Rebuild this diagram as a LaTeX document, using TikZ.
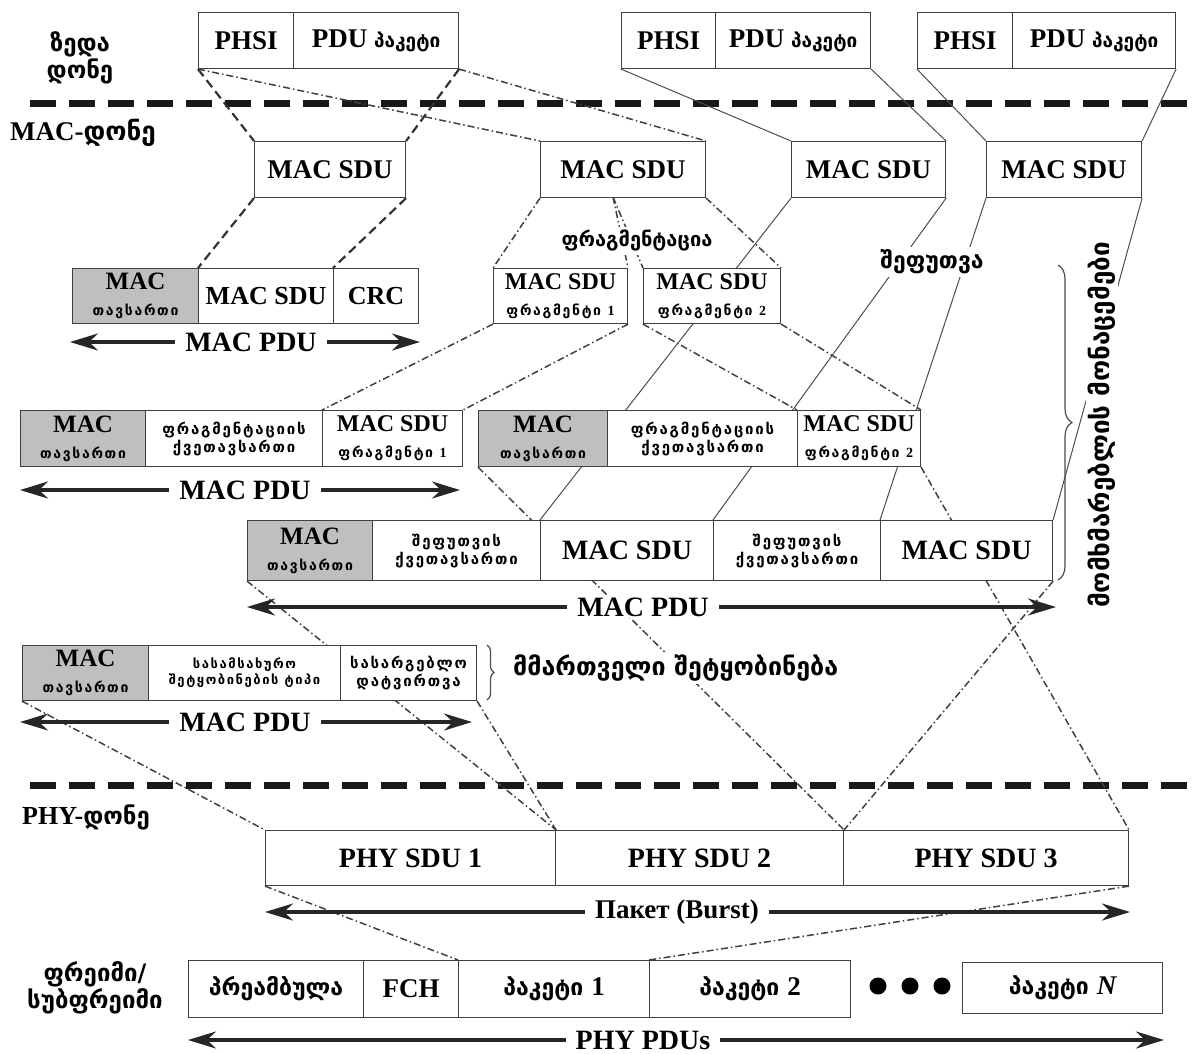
\documentclass[tikz,border=0pt]{standalone}
\usepackage{fontspec}
\setmainfont{Liberation Serif}
\newfontfamily\geofont{DejaVu Sans}
\newfontfamily\geofontsp{DejaVu Sans}[LetterSpace=12]
\usetikzlibrary{arrows.meta,decorations.pathreplacing}
\pgfdeclarelayer{background}
\pgfsetlayers{background,main}

% Georgian text in bold sans: size, leading
\newcommand\kafont[2]{\geofont\bfseries\fontsize{#1}{#2}\selectfont}
% Georgian text in bold sans, letter-spaced, for small cell captions
\newcommand\kasmall[2]{\geofontsp\bfseries\fontsize{#1}{#2}\selectfont}
% Latin text in bold serif: size, leading
\newcommand\lafont[2]{\rmfamily\bfseries\fontsize{#1}{#2}\selectfont}
% one rectangular cell: name, x1, x2, y1, y2, style, text
\newcommand\mkcell[7]{\node[#6, minimum width={(#3-#2)*1pt}, minimum height={(#5-#4)*1pt}] (#1) at (#2,#4) {#7};}
% MAC header cell text
\newcommand\machdr{{\lafont{25}{25}MAC}\\[-3pt]{\kasmall{14}{15}თავსართი}}
% MAC SDU fragment cell text
\newcommand\fragtxt[1]{{\lafont{24}{24}MAC SDU}\\[-3pt]{\kasmall{14}{15}ფრაგმენტი {\rmfamily #1}}}

\tikzset{
  cellbox/.style={draw=black!75, line width=1.1pt, fill=white, inner sep=0pt,
    anchor=north west, align=center, text=black, font=\lafont{27}{29}},
  hdrbox/.style={cellbox, fill=black!25},
  pdulbl/.style={fill=white, inner xsep=10pt, inner ysep=2pt, font=\lafont{28}{30}},
  pduarrow/.style={line width=3.2pt, black!85,
    {Stealth[length=28pt,width=17pt]}-{Stealth[length=28pt,width=17pt]}},
  dashconn/.style={line width=2.2pt, black!80, dash pattern=on 9pt off 5pt},
  dotconn/.style={line width=1.5pt, black!75, dash pattern=on 7pt off 3pt on 1.5pt off 3pt},
  thinconn/.style={line width=1pt, black!70},
  sepline/.style={line width=7pt, black!90, dash pattern=on 26pt off 13pt},
  lvllbl/.style={inner sep=0pt, align=center, font=\kafont{24}{27}},
  notelbl/.style={fill=white, inner sep=3pt, font=\kafont{20}{22}},
  bracedeco/.style={decorate, decoration={brace, amplitude=#1}, line width=1.2pt, black!70},
  dotmark/.style={circle, fill=black, minimum size=17pt, inner sep=0pt}
}

\begin{document}
\begin{tikzpicture}[x=1pt, y=-1pt]
\useasboundingbox (0,0) rectangle (1202,1053);

% ---------- upper level: three PHSI / PDU packets ----------
\mkcell{A1}{198}{293}{12}{68}{cellbox}{PHSI}
\mkcell{A2}{293}{458}{12}{68}{cellbox}{PDU {\kafont{19}{20}პაკეტი}}
\mkcell{B1}{621}{715}{12}{68}{cellbox}{PHSI}
\mkcell{B2}{715}{870}{12}{68}{cellbox}{PDU {\kafont{19}{20}პაკეტი}}
\mkcell{C1}{917}{1012}{12}{68}{cellbox}{PHSI}
\mkcell{C2}{1012}{1175}{12}{68}{cellbox}{PDU {\kafont{19}{20}პაკეტი}}

\node[lvllbl] (lvlTop) at (80,58) {ზედა\\დონე};
\node[lvllbl, anchor=west, font=\kafont{26}{28}] (lvlMac) at (10,133) {{\lafont{27}{29}MAC-}დონე};

\coordinate (sepAl) at (30,103);
\coordinate (sepAr) at (1192,103);

% ---------- MAC SDUs ----------
\mkcell{S1}{254}{405}{141}{197}{cellbox}{MAC SDU}
\mkcell{S2}{540}{705}{141}{197}{cellbox}{MAC SDU}
\mkcell{S3}{791}{945}{141}{197}{cellbox}{MAC SDU}
\mkcell{S4}{986}{1141}{141}{197}{cellbox}{MAC SDU}
\coordinate (fragsplit) at (613,197);

% ---------- MAC PDU with CRC ----------
\mkcell{P1h}{72}{198}{268}{323}{hdrbox}{\machdr}
\mkcell{P1s}{198}{333}{268}{323}{cellbox, font=\lafont{26}{28}}{MAC SDU}
\mkcell{P1c}{333}{418}{268}{323}{cellbox, font=\lafont{26}{28}}{CRC}
\coordinate (ar1l) at (70,342);
\coordinate (ar1r) at (420,342);
\draw[pduarrow] (ar1l) -- (ar1r);
\node[pdulbl] (ar1t) at (251,342) {MAC PDU};

% ---------- fragments ----------
\mkcell{Fr1}{493}{627}{268}{323}{cellbox}{\fragtxt{1}}
\mkcell{Fr2}{643}{780}{268}{323}{cellbox}{\fragtxt{2}}
\node[notelbl, font=\kafont{20}{22}] (fragLbl) at (637,241) {ფრაგმენტაცია};
\node[notelbl, font=\kafont{23}{25}] (packLbl) at (932,262) {შეფუთვა};

% ---------- fragmented MAC PDUs ----------
\mkcell{F1h}{20}{145}{410}{466}{hdrbox}{\machdr}
\mkcell{F1s}{145}{322}{410}{466}{cellbox, font=\kasmall{15}{18}}{ფრაგმენტაციის\\ქვეთავსართი}
\mkcell{F1d}{322}{462}{410}{466}{cellbox}{\fragtxt{1}}
\mkcell{F2h}{478}{607}{410}{466}{hdrbox}{\machdr}
\mkcell{F2s}{607}{797}{410}{466}{cellbox, font=\kasmall{15}{18}}{ფრაგმენტაციის\\ქვეთავსართი}
\mkcell{F2d}{797}{920}{410}{466}{cellbox}{\fragtxt{2}}
\coordinate (ar2l) at (20,490);
\coordinate (ar2r) at (460,490);
\draw[pduarrow] (ar2l) -- (ar2r);
\node[pdulbl] (ar2t) at (245,490) {MAC PDU};

% ---------- packed MAC PDU ----------
\mkcell{K1}{247}{372}{520}{580}{hdrbox}{\machdr}
\mkcell{K2}{372}{540}{520}{580}{cellbox, font=\kasmall{15}{18}}{შეფუთვის\\ქვეთავსართი}
\mkcell{K3}{540}{713}{520}{580}{cellbox, font=\lafont{28}{30}}{MAC SDU}
\mkcell{K4}{713}{880}{520}{580}{cellbox, font=\kasmall{15}{18}}{შეფუთვის\\ქვეთავსართი}
\mkcell{K5}{880}{1052}{520}{580}{cellbox, font=\lafont{28}{30}}{MAC SDU}
\coordinate (ar3l) at (247,607);
\coordinate (ar3r) at (1056,607);
\draw[pduarrow] (ar3l) -- (ar3r);
\node[pdulbl] (ar3t) at (643,607) {MAC PDU};

% user data brace and label
\coordinate (ubt) at (1058,265);
\coordinate (ubb) at (1058,580);
\draw[bracedeco=14pt] (ubt) -- (ubb);
\node[notelbl, rotate=90, inner sep=2pt, font=\kafont{26}{28}] (userLbl) at (1102,425) {მომხმარებლის მონაცემები};

% ---------- management message ----------
\mkcell{M1}{22}{148}{645}{700}{hdrbox}{\machdr}
\mkcell{M2}{148}{340}{645}{700}{cellbox, font=\kasmall{13}{16}}{სასამსახურო\\შეტყობინების ტიპი}
\mkcell{M3}{340}{476}{645}{700}{cellbox, font=\kasmall{15}{18}}{სასარგებლო\\დატვირთვა}
\coordinate (mbt) at (487,645);
\coordinate (mbb) at (487,700);
\draw[bracedeco=7pt] (mbt) -- (mbb);
\node[notelbl, anchor=west, font=\kafont{25}{27}] (mgmtLbl) at (510,668) {მმართველი შეტყობინება};
\coordinate (ar4l) at (20,722);
\coordinate (ar4r) at (472,722);
\draw[pduarrow] (ar4l) -- (ar4r);
\node[pdulbl] (ar4t) at (245,722) {MAC PDU};

% ---------- PHY level ----------
\coordinate (sepBl) at (30,785);
\coordinate (sepBr) at (1192,785);
\node[lvllbl, anchor=west] (lvlPhy) at (22,817) {{\lafont{26}{28}PHY-}დონე};

\mkcell{Y1}{265}{555}{830}{885}{cellbox, font=\lafont{28}{30}}{PHY SDU 1}
\mkcell{Y2}{555}{843}{830}{885}{cellbox, font=\lafont{28}{30}}{PHY SDU 2}
\mkcell{Y3}{843}{1128}{830}{885}{cellbox, font=\lafont{28}{30}}{PHY SDU 3}
\coordinate (ar5l) at (265,912);
\coordinate (ar5r) at (1130,912);
\draw[pduarrow] (ar5l) -- (ar5r);
\node[pdulbl, font=\lafont{27}{29}] (ar5t) at (677,912) {Пакет (Burst)};

% ---------- frame / subframe ----------
\node[lvllbl, font=\kafont{24}{27}] (lvlFrame) at (95,988) {ფრეიმი/\\სუბფრეიმი};
\mkcell{R1}{188}{363}{960}{1017}{cellbox, font=\kafont{23}{25}}{პრეამბულა}
\mkcell{R2}{363}{458}{960}{1017}{cellbox, font=\lafont{27}{29}}{FCH}
\mkcell{R3}{458}{649}{960}{1017}{cellbox, font=\kafont{23}{25}}{პაკეტი {\lafont{27}{29}1}}
\mkcell{R4}{649}{850}{960}{1017}{cellbox, font=\kafont{23}{25}}{პაკეტი {\lafont{27}{29}2}}
\node[dotmark] (D1) at (878,986) {};
\node[dotmark] (D2) at (910,986) {};
\node[dotmark] (D3) at (942,986) {};
\mkcell{RN}{962}{1162}{962}{1013}{cellbox, font=\kafont{23}{25}}{პაკეტი {\lafont{27}{29}\itshape N}}
\coordinate (ar6l) at (188,1040);
\coordinate (ar6r) at (1164,1040);
\draw[pduarrow] (ar6l) -- (ar6r);
\node[pdulbl] (ar6t) at (643,1040) {PHY PDUs};

% ---------- connectors (behind the cells) ----------
\begin{pgfonlayer}{background}
  \draw[sepline] (sepAl) -- (sepAr);
  \draw[sepline] (sepBl) -- (sepBr);
  % encapsulation without fragmentation
  \draw[dashconn] (A1.south west) -- (S1.north west);
  \draw[dashconn] (A2.south east) -- (S1.north east);
  \draw[dashconn] (S1.south west) -- (P1s.north west);
  \draw[dashconn] (S1.south east) -- (P1c.north west);
  % fragmentation
  \draw[dotconn] (A1.south west) -- (S2.north west);
  \draw[dotconn] (A2.south east) -- (S2.north east);
  \draw[dotconn] (S2.south west) -- (Fr1.north west);
  \draw[dotconn] (S2.south east) -- (Fr2.north east);
  \draw[dotconn] (fragsplit) -- (Fr1.north east);
  \draw[dotconn] (fragsplit) -- (Fr2.north west);
  \draw[dotconn] (Fr1.south west) -- (F1d.north west);
  \draw[dotconn] (Fr1.south east) -- (F1d.north east);
  \draw[dotconn] (Fr2.south west) -- (F2d.north west);
  \draw[dotconn] (Fr2.south east) -- (F2d.north east);
  % packing
  \draw[thinconn] (B1.south west) -- (S3.north west);
  \draw[thinconn] (B2.south east) -- (S3.north east);
  \draw[thinconn] (C1.south west) -- (S4.north west);
  \draw[thinconn] (C2.south east) -- (S4.north east);
  \draw[thinconn] (S3.south west) -- (K3.north west);
  \draw[thinconn] (S3.south east) -- (K4.north west);
  \draw[thinconn] (S4.south west) -- (K5.north west);
  \draw[thinconn] (S4.south east) -- (K5.north east);
  % MAC PDUs into PHY SDUs
  \draw[dotconn] (F2h.south west) -- (Y2.north east);
  \draw[dotconn] (F2d.south east) -- (Y3.north east);
  \draw[dotconn] (K1.south west) -- (Y1.north east);
  \draw[dotconn] (K5.south east) -- (Y2.north east);
  \draw[dotconn] (M1.south west) -- (Y1.north west);
  \draw[dotconn] (M3.south east) -- (Y1.north east);
  % burst into the frame
  \draw[dotconn] (Y1.south west) -- (R3.north west);
  \draw[dotconn] (Y3.south east) -- (R4.north west);
\end{pgfonlayer}
\end{tikzpicture}
\end{document}
